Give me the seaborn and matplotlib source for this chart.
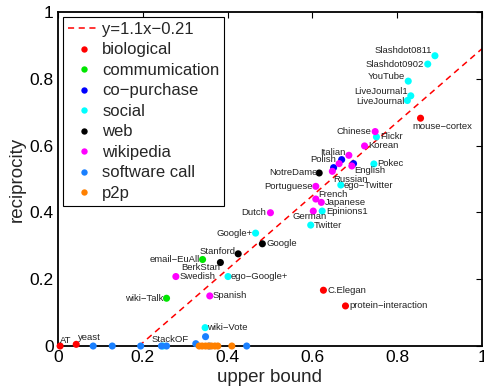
import numpy as np
import pandas as pd
import seaborn as sns
import matplotlib.pyplot as plt

# dados
names = [
    "AT", "yeast", "mouse\u2212cortex", "C.Elegan", "protein\u2212interaction",
    "email\u2212EuAll", "wiki\u2212Talk",
    "", "", "",
    "Slashdot0811", "Slashdot0902", "YouTube", "LiveJournal1", "LiveJournal",
    "Flickr", "Pokec", "ego\u2212Twitter", "Epinions1", "Twitter", "Google+",
    "ego\u2212Google+", "wiki\u2212Vote", "StackOF",
    "NotreDame", "Google", "Stanford", "BerkStan",
    "Chinese", "Korean", "Italian", "Polish", "English", "Russian", "Portuguese",
    "French", "Japanese", "German", "Dutch", "Swedish", "Spanish",
    "", "", "", "", "", "", "", "", "",
    "", "", "", "", "", "", "", "",
]
upper_bound = [
    0.005, 0.043, 0.855, 0.626, 0.678,
    0.341, 0.256,
    0.669, 0.697, 0.650,
    0.889, 0.872, 0.826, 0.832, 0.824,
    0.751, 0.745, 0.667, 0.623, 0.596, 0.466,
    0.401, 0.347, 0.248,
    0.616, 0.482, 0.425, 0.383,
    0.748, 0.723, 0.686, 0.663, 0.693, 0.647, 0.608,
    0.608, 0.621, 0.602, 0.501, 0.278, 0.358,
    0.083, 0.128, 0.195, 0.244, 0.256, 0.325, 0.348, 0.357, 0.445,
    0.333, 0.340, 0.348, 0.355, 0.362, 0.370, 0.377, 0.410,
]
reciprocity = [
    0.0, 0.005, 0.682, 0.167, 0.120,
    0.259, 0.143,
    0.558, 0.546, 0.534,
    0.869, 0.844, 0.793, 0.749, 0.735,
    0.626, 0.545, 0.482, 0.404, 0.362, 0.338,
    0.208, 0.055, 0.0,
    0.518, 0.306, 0.276, 0.250,
    0.642, 0.599, 0.571, 0.546, 0.539, 0.523, 0.478,
    0.440, 0.430, 0.404, 0.399, 0.208, 0.150,
    0.0, 0.0, 0.0, 0.0, 0.0, 0.007, 0.028, 0.0, 0.0,
    0.0, 0.0, 0.0, 0.0, 0.0, 0.0, 0.0, 0.0,
]
category = (
    ["biological"] * 5 + ["commumication"] * 2 + ["co\u2212purchase"] * 3
    + ["social"] * 14 + ["web"] * 4 + ["wikipedia"] * 13
    + ["software call"] * 9 + ["p2p"] * 8
)
fit_slope = 1.1
fit_intercept = -0.21

palette = {
    "biological": "#ff0000",
    "commumication": "#00e600",
    "co\u2212purchase": "#0000ff",
    "social": "#00ffff",
    "web": "#000000",
    "wikipedia": "#ff00ff",
    "software call": "#1a80ff",
    "p2p": "#ff8000",
}

# deslocamento dos rotulos (pixels) e alinhamento
label_pos = {
    "Slashdot0811": (-3, 5, "right"), "Slashdot0902": (-4, 0, "right"),
    "YouTube": (-3, 5, "right"), "LiveJournal1": (-3, 4, "right"),
    "LiveJournal": (-3, -1, "right"), "mouse\u2212cortex": (-8, -8, "left"),
    "Chinese": (-4, 0, "right"), "Flickr": (4, 0, "left"), "Korean": (4, 0, "left"),
    "Italian": (-3, 3, "right"), "Polish": (-3, 4, "right"),
    "English": (2, -5, "left"), "Russian": (1, -8, "left"), "Pokec": (3, 0, "left"),
    "NotreDame": (-2, 0, "right"), "ego\u2212Twitter": (3, 0, "left"),
    "Portuguese": (-3, 0, "right"), "French": (2, 5, "left"),
    "Japanese": (4, 0, "left"), "German": (-4, -5, "center"),
    "Epinions1": (4, 0, "left"), "Twitter": (3, 0, "left"),
    "Dutch": (-4, 0, "right"), "Google+": (-3, 0, "right"), "Google": (4, 0, "left"),
    "C.Elegan": (4, 0, "left"), "protein\u2212interaction": (4, 0, "left"),
    "ego\u2212Google+": (3, 0, "left"), "Stanford": (-3, 2, "right"),
    "email\u2212EuAll": (-3, 0, "right"), "BerkStan": (0, -5, "right"),
    "Swedish": (4, 0, "left"), "Spanish": (3, 0, "left"),
    "wiki\u2212Talk": (-3, 0, "right"), "wiki\u2212Vote": (2, 0, "left"),
    "StackOF": (-12, 7, "left"), "AT": (0, 6, "left"), "yeast": (2, 7, "left"),
}

df = pd.DataFrame({"name": names, "upper bound": upper_bound,
                   "reciprocity": reciprocity, "category": category})

sns.set_style("white")
plt.rcParams["font.family"] = ["Liberation Sans", "DejaVu Sans"]
plt.rcParams["axes.linewidth"] = 1.3

fig, ax = plt.subplots(figsize=(4.84, 3.89), dpi=100)
fig.subplots_adjust(left=0.1198, right=0.9959, top=0.9692, bottom=0.1105)

x_fit = np.linspace(-fit_intercept / fit_slope, 1.0, 50)
ax.plot(x_fit, fit_slope * x_fit + fit_intercept, color="#ff0000", ls=(0, (4, 3)),
        lw=1.1, label="y=1.1x\u22120.21", zorder=1)

sns.scatterplot(data=df, x="upper bound", y="reciprocity", hue="category",
                palette=palette, hue_order=list(palette), s=26, linewidth=0,
                ax=ax, zorder=3, clip_on=False)

for _, row in df.iterrows():
    if row["name"] in label_pos:
        dx, dy, ha = label_pos[row["name"]]
        ax.annotate(row["name"], (row["upper bound"], row["reciprocity"]),
                    xytext=(dx, dy), textcoords="offset pixels", ha=ha,
                    va="center", fontsize=6.8, color="#222222")

ax.set_xlim(0, 1)
ax.set_ylim(0, 1)
ticks = [0, 0.2, 0.4, 0.6, 0.8, 1]
tick_labels = ["0", "0.2", "0.4", "0.6", "0.8", "1"]
ax.set_xticks(ticks)
ax.set_xticklabels(tick_labels)
ax.set_yticks(ticks)
ax.set_yticklabels(tick_labels)
ax.tick_params(direction="in", top=True, right=True, length=4, width=0.8,
               labelsize=12.5, colors="black", pad=3)
ax.set_xlabel("upper bound", fontsize=13.5, labelpad=3)
ax.set_ylabel("reciprocity", fontsize=13.5, labelpad=3)
for sp in ax.spines.values():
    sp.set_color("black")

handles, labels = ax.get_legend_handles_labels()
leg = ax.legend(handles, labels, loc="upper left", fontsize=12, frameon=True,
                fancybox=False, edgecolor="black", handlelength=1.9,
                handletextpad=0.15, labelspacing=0.33, borderaxespad=0.3,
                borderpad=0.3, markerscale=0.9)
leg.get_frame().set_linewidth(0.8)
leg.get_frame().set_alpha(1)

plt.savefig("out.png", dpi=100)
plt.close()
